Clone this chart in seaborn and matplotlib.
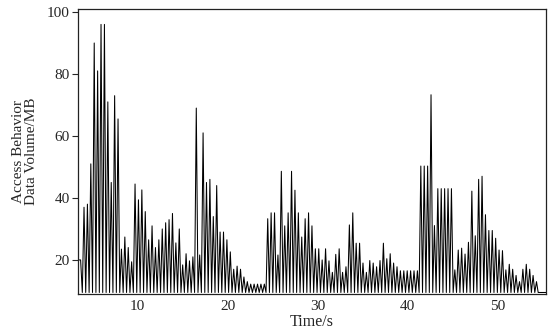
import numpy as np
import pandas as pd
import matplotlib
matplotlib.use("Agg")
import matplotlib.pyplot as plt
import seaborn as sns

# ---- data ----
lead_in_time = 3.0
lead_in_value = 20
first_peak_time = 3.69
peak_step = 0.3776          # seconds between successive spikes
trough_value = 9.5          # value the line drops to between spikes

peaks_a = [20, 37, 38, 51, 90, 81, 96, 96, 71, 45, 73, 65.5, 23.5, 27.4, 24, 19.4,
           44.5, 39.4, 42.6, 35.6, 26.5, 31, 24, 26.5, 30, 32, 33, 35, 25.5, 30,
           18.4, 22, 19.7, 21, 69, 21.6, 61, 45, 46, 34, 44, 29, 29, 26.5, 22.6, 17]
peaks_b = [18, 17, 14.5, 13, 12.2, 12.2, 12.2, 12.2, 12.2, 33.3, 35.2, 35.2, 21.6,
           48.6, 31, 35.2, 48.6, 42.5, 35.2, 27.4, 33.3, 35.2, 31, 23.6, 23.6, 20,
           23.6, 19.7, 16, 21.8, 23.6, 16, 17.8, 31.3, 35.2, 25.4, 25.4, 19, 16,
           19.8, 19, 17.8, 19.8, 25.4, 20.4, 22]
peaks_c = [19, 17.8, 16.5, 16.5, 16.5, 16.5, 16.5, 16.5, 50.3, 50.3, 50.3, 73.3,
           31.1, 43, 43, 43, 43, 43, 16.8, 23.2, 23.8, 21.9, 25.7, 42.2, 27.8, 46,
           47, 34.6, 29.5, 29.5, 27, 23.2, 23, 16.8, 18.6, 17, 15, 13, 17, 18.6,
           17, 15, 13]

x_ticks = [10, 20, 30, 40, 50]
y_ticks = [20, 40, 60, 80, 100]
x_label = "Time/s"
y_label = "Access Behavior\nData Volume/MB"

# ---- build the series (spike, trough, spike, trough ...) ----
peaks = peaks_a + peaks_b + peaks_c
times = [lead_in_time]
values = [lead_in_value]
for i, p in enumerate(peaks):
    t = first_peak_time + i * peak_step
    times += [t, t + peak_step / 2]
    values += [p, trough_value]
times.append(56.0)
values.append(trough_value)
df = pd.DataFrame({"time": times, "volume": values})

sns.set_theme(style="ticks")
plt.rcParams["font.family"] = ["Liberation Serif", "DejaVu Serif"]

fig = plt.figure(figsize=(5.5, 3.3), dpi=100)
ax = fig.add_axes([0.141, 0.109, 0.851, 0.864])
sns.lineplot(data=df, x="time", y="volume", ax=ax, color="black",
             linewidth=0.75, estimator=None, sort=False)

ax.set_xlim(3.35, 55.3)
ax.set_ylim(9, 101)
ax.set_xticks(x_ticks)
ax.set_yticks(y_ticks)
ax.tick_params(axis="x", length=0, pad=4, labelsize=11)
ax.tick_params(axis="y", length=4, width=0.8, pad=1.5, labelsize=11, direction="out")
for s in ax.spines.values():
    s.set_visible(True)
    s.set_linewidth(0.9)
    s.set_color("#222222")
ax.set_xlabel(x_label, fontsize=11.5, labelpad=1)
ax.set_ylabel(y_label, fontsize=11, linespacing=1.0, multialignment="center")
ax.yaxis.set_label_coords(-0.085, 0.5)

fig.savefig("out.png", dpi=100)
